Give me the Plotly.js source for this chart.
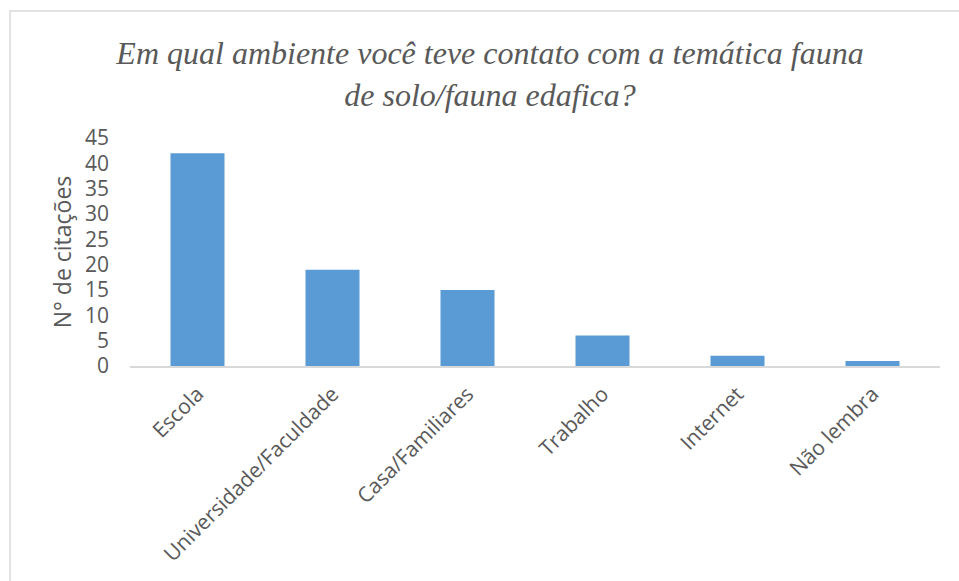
<!DOCTYPE html>
<html>
<head>
<meta charset="utf-8">
<script src="https://cdn.plot.ly/plotly-3.0.1.min.js"></script>
<style>html,body{margin:0;padding:0;background:#fff;}#chart{width:959px;height:581px;}</style>
</head>
<body>
<div id="chart"></div>
<script>
const categories = ["Escola", "Universidade/Faculdade", "Casa/Familiares", "Trabalho", "Internet", "Não lembra"];
const citations = [42, 19, 15, 6, 2, 1];
const yTickValues = [0, 5, 10, 15, 20, 25, 30, 35, 40, 45];
const chartTitle = "Em qual ambiente você teve contato com a temática fauna<br>de solo/fauna edafica?";
const yTitle = "N° de citações";

const textColor = "#595959";
const trace = {
  type: "bar",
  x: categories,
  y: citations,
  marker: {color: "#5B9BD5"},
  hoverinfo: "x+y"
};

const layout = {
  width: 959,
  height: 581,
  margin: {l: 130, r: 19, t: 138, b: 215},
  paper_bgcolor: "#ffffff",
  plot_bgcolor: "#ffffff",
  bargap: 0.6,
  showlegend: false,
  title: {
    text: chartTitle,
    font: {family: "Liberation Serif, serif", size: 32, color: textColor, style: "italic"},
    xref: "container", x: 490 / 959, xanchor: "center",
    yref: "container", y: 0.89, yanchor: "top"
  },
  xaxis: {
    type: "category",
    tickangle: -45,
    showgrid: false,
    zeroline: false,
    showline: true,
    linecolor: "#D9D9D9",
    linewidth: 1.5,
    ticks: "",
    ticklabelstandoff: 6,
    tickfont: {family: "Open Sans", size: 21, color: textColor}
  },
  yaxis: {
    range: [0, 45],
    tickvals: yTickValues,
    showgrid: false,
    zeroline: false,
    showline: false,
    ticks: "",
    ticklabelstandoff: 20,
    tickfont: {family: "Open Sans", size: 21, color: textColor},
    title: {text: yTitle, font: {family: "Open Sans", size: 23, color: textColor}, standoff: 6}
  },
  shapes: [{
    type: "rect", xref: "paper", yref: "paper",
    x0: (10 - 130) / 810, x1: 1.2,
    y0: -1.5, y1: (366 - 11) / 228,
    line: {color: "#D9D9D9", width: 1.5},
    fillcolor: "rgba(0,0,0,0)",
    layer: "below"
  }]
};

Plotly.newPlot("chart", [trace], layout, {displayModeBar: false, staticPlot: true});
</script>
</body>
</html>
